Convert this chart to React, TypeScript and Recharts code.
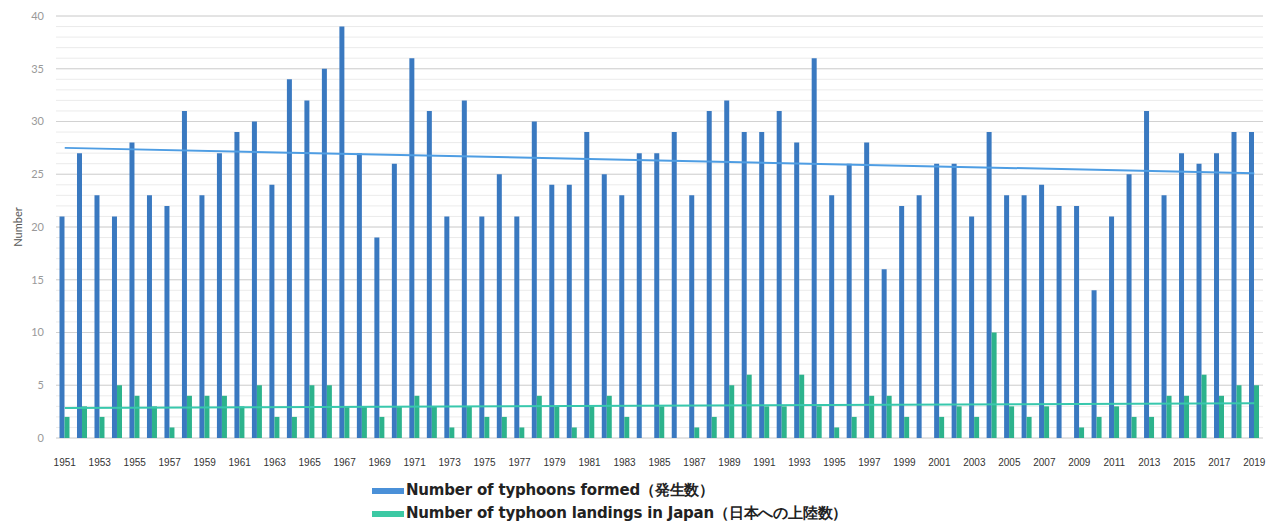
import {
  Bar,
  BarChart,
  CartesianGrid,
  Label,
  Legend,
  ReferenceLine,
  XAxis,
  YAxis,
} from 'recharts'

const years = [
  1951, 1952, 1953, 1954, 1955, 1956, 1957, 1958, 1959, 1960,
  1961, 1962, 1963, 1964, 1965, 1966, 1967, 1968, 1969, 1970,
  1971, 1972, 1973, 1974, 1975, 1976, 1977, 1978, 1979, 1980,
  1981, 1982, 1983, 1984, 1985, 1986, 1987, 1988, 1989, 1990,
  1991, 1992, 1993, 1994, 1995, 1996, 1997, 1998, 1999, 2000,
  2001, 2002, 2003, 2004, 2005, 2006, 2007, 2008, 2009, 2010,
  2011, 2012, 2013, 2014, 2015, 2016, 2017, 2018, 2019,
]

const formed = [
  21, 27, 23, 21, 28, 23, 22, 31, 23, 27,
  29, 30, 24, 34, 32, 35, 39, 27, 19, 26,
  36, 31, 21, 32, 21, 25, 21, 30, 24, 24,
  29, 25, 23, 27, 27, 29, 23, 31, 32, 29,
  29, 31, 28, 36, 23, 26, 28, 16, 22, 23,
  26, 26, 21, 29, 23, 23, 24, 22, 22, 14,
  21, 25, 31, 23, 27, 26, 27, 29, 29,
]

const landings = [
  2, 3, 2, 5, 4, 3, 1, 4, 4, 4,
  3, 5, 2, 2, 5, 5, 3, 3, 2, 3,
  4, 3, 1, 3, 2, 2, 1, 4, 3, 1,
  3, 4, 2, 0, 3, 0, 1, 2, 5, 6,
  3, 3, 6, 3, 1, 2, 4, 4, 2, 0,
  2, 3, 2, 10, 3, 2, 3, 0, 1, 2,
  3, 2, 2, 4, 4, 6, 4, 5, 5,
]

// trend line end values (first year, last year)
const formedTrend = [27.5, 25.1]
const landingsTrend = [2.85, 3.3]

const yTicks = [
  0, 1, 2, 3, 4, 5, 6, 7, 8, 9, 10, 11, 12, 13, 14, 15, 16, 17, 18, 19, 20,
  21, 22, 23, 24, 25, 26, 27, 28, 29, 30, 31, 32, 33, 34, 35, 36, 37, 38, 39, 40,
]
const yMajor = [0, 5, 10, 15, 20, 25, 30, 35, 40]

const seriesNames = [
  'Number of typhoons formed（発生数）',
  'Number of typhoon landings in Japan（日本への上陸数）',
]

const BLUE = '#3a79c0'
const GREEN = '#2db38c'

const data = years.map((y, i) => ({
  year: String(y),
  formed: formed[i],
  landings: landings[i],
}))

const firstYear = String(years[0])
const lastYear = String(years[years.length - 1])

const LegendBox = () => (
  <div
    style={{
      fontFamily: '"DejaVu Sans", sans-serif',
      fontWeight: 700,
      fontSize: 15,
      color: '#222',
      letterSpacing: -0.2,
    }}
  >
    {seriesNames.map((name, i) => (
      <div key={name} style={{ display: 'flex', alignItems: 'center', height: 23 }}>
        <span
          style={{
            display: 'inline-block',
            width: 32,
            height: 6,
            marginRight: 2,
            background: i === 0 ? '#4a90d8' : '#3cc9a4',
          }}
        />
        <span>{name}</span>
      </div>
    ))}
  </div>
)

const App = () => {
  return (
    <div style={{ position: 'absolute', left: 0, top: 0 }}>
      <BarChart
        width={1278}
        height={527}
        data={data}
        margin={{ top: 16, right: 15, left: 8, bottom: 59 }}
        barCategoryGap="20%"
        barGap={0}
      >
        <CartesianGrid vertical={false} stroke="#ebebeb" />
        <CartesianGrid vertical={false} horizontalValues={yMajor} stroke="#d2d2d2" />
        <XAxis
          dataKey="year"
          interval={1}
          tickLine={false}
          axisLine={false}
          tickMargin={15}
          tick={{ fontSize: 10, fill: '#333', fontFamily: 'Liberation Sans, sans-serif' }}
          height={30}
        />
        <YAxis
          domain={[0, 40]}
          ticks={yTicks}
          interval={0}
          tickFormatter={(v: number) => (v % 5 === 0 ? String(v) : '')}
          tickLine={false}
          axisLine={false}
          tickMargin={6}
          width={48}
          tick={{ fontSize: 11, fill: '#999', fontFamily: 'Lato, sans-serif' }}
        >
          <Label
            value="Number"
            angle={-90}
            position="insideLeft"
            offset={10}
            style={{ fontSize: 11, fill: '#555', fontFamily: 'Lato, sans-serif', textAnchor: 'middle' }}
          />
        </YAxis>
        <Bar dataKey="formed" name={seriesNames[0]} fill={BLUE} isAnimationActive={false} />
        <Bar dataKey="landings" name={seriesNames[1]} fill={GREEN} isAnimationActive={false} />
        <ReferenceLine
          segment={[
            { x: firstYear, y: formedTrend[0] },
            { x: lastYear, y: formedTrend[1] },
          ]}
          stroke="#4e9de3"
          strokeWidth={2}
        />
        <ReferenceLine
          segment={[
            { x: firstYear, y: landingsTrend[0] },
            { x: lastYear, y: landingsTrend[1] },
          ]}
          stroke="#38c8ad"
          strokeWidth={2}
        />
        <Legend
          layout="vertical"
          align="center"
          verticalAlign="middle"
          content={() => <LegendBox />}
          wrapperStyle={{ top: 479, left: 372, width: 600 }}
        />
      </BarChart>
    </div>
  )
}

export default App
